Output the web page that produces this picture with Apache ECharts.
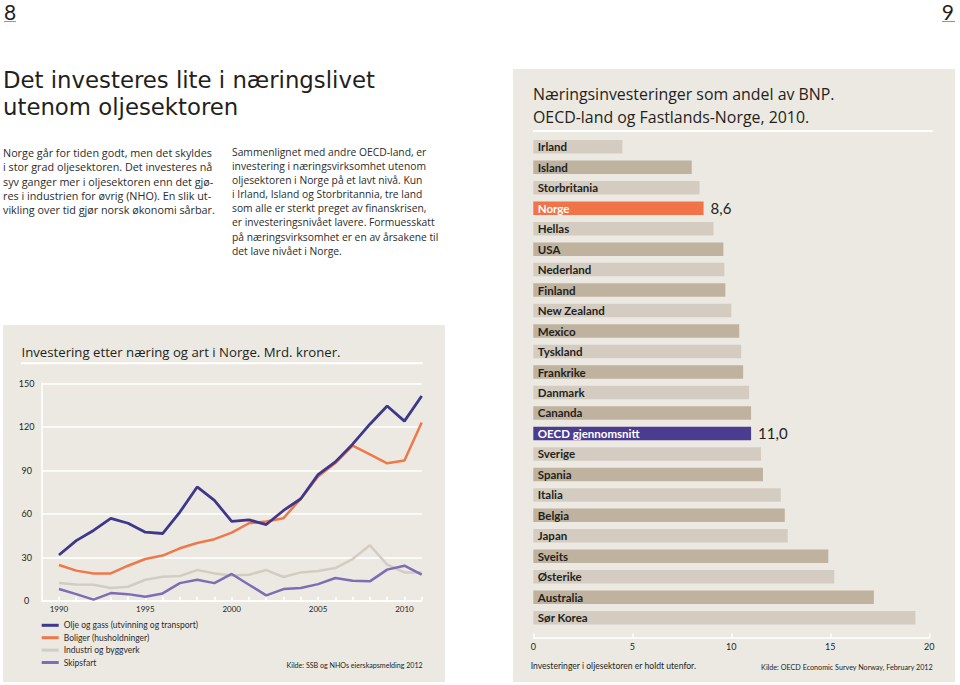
<!DOCTYPE html>
<html>
<head>
<meta charset="utf-8">
<script src="https://cdn.jsdelivr.net/npm/echarts@6/dist/echarts.min.js"></script>
<style>
  html, body { margin:0; padding:0; background:#ffffff; }
  #chart { width:960px; height:685px; }
</style>
</head>
<body>
<div id="chart"></div>
<script>
// ---------- Data ----------
const years = [1990,1991,1992,1993,1994,1995,1996,1997,1998,1999,2000,2001,2002,2003,2004,2005,2006,2007,2008,2009,2010,2011];
const oljeGass  = [31.6,41.5,48.5,56.8,53.5,47.3,46.4,61.2,78.5,69.2,54.8,55.8,52.6,62.3,70.4,87.0,95.8,108.0,121.8,134.3,123.9,141.2];
const boliger   = [24.7,20.8,18.9,18.9,24.2,28.8,31.2,36.2,39.9,42.5,47.0,53.5,54.7,57.0,70.4,85.8,95.0,107.0,101.0,94.8,96.7,123.0];
const industri  = [12.2,11.3,11.1,8.8,9.7,14.5,16.6,17.1,21.2,18.9,17.5,18.0,21.2,16.4,19.6,20.5,22.6,28.8,38.3,24.9,19.6,19.5];
const skipsfart = [8.1,4.6,0.8,5.3,4.6,2.8,5.1,12.2,14.5,12.2,18.5,11.1,3.7,8.1,8.8,11.5,15.7,13.8,13.4,21.5,24.2,18.0];
const lineNames = ['Olje og gass (utvinning og transport)','Boliger (husholdninger)','Industri og byggverk','Skipsfart'];

const countries = ['Irland','Island','Storbritania','Norge','Hellas','USA','Nederland','Finland','New Zealand','Mexico','Tyskland','Frankrike','Danmark','Cananda','OECD gjennomsnitt','Sverige','Spania','Italia','Belgia','Japan','Sveits','Østerike','Australia','Sør Korea'];
const shares = [4.5,8.0,8.4,8.6,9.1,9.6,9.65,9.7,10.0,10.4,10.5,10.6,10.9,11.0,11.0,11.5,11.6,12.5,12.7,12.85,14.9,15.2,17.2,19.3];
const highlightNorway = 'Norge';
const highlightOECD = 'OECD gjennomsnitt';

// ---------- Styles ----------
const FONT = 'Lato';
const WIDE = 'Open Sans';
const TITLEFONT = 'DejaVu Sans';
const BG = '#ece9e3';
const C_OLJE = '#40368a', C_BOLIG = '#ef784a', C_IND = '#d3ccc2', C_SKIP = '#7d6db4';
const BAR_LIGHT = '#d4ccc1', BAR_DARK = '#bfb29f', BAR_NO = '#f07448', BAR_OECD = '#4b3c91';
const TXT = '#231f20';

// colours alternate among countries (OECD row excluded from the alternation)
let k = 0;
const barData = countries.map((c, i) => {
  let color;
  if (c === highlightNorway) { color = BAR_NO; k++; }
  else if (c === highlightOECD) { color = BAR_OECD; }
  else { color = (k % 2 === 0) ? BAR_LIGHT : BAR_DARK; k++; }
  const hl = (c === highlightNorway || c === highlightOECD);
  return { value: shares[i], name: c, itemStyle: { color: color },
           label: { color: hl ? '#ffffff' : TXT } };
});
const valueLabelData = countries.map((c, i) =>
  (c === highlightNorway || c === highlightOECD) ? shares[i] : null);

const pairs = arr => years.map((y, i) => [y, arr[i]]);

const chart = echarts.init(document.getElementById('chart'), null, { renderer: 'svg' });

function txt(text, x, y, size, opts) {
  opts = opts || {};
  const st = {
    text: text, fill: opts.fill || TXT, fontSize: size, fontFamily: opts.family || FONT,
    fontWeight: opts.weight || 'normal',
    align: opts.align || 'left', textAlign: opts.align || 'left',
    verticalAlign: 'middle', textVerticalAlign: 'middle'
  };
  if (opts.lh) st.lineHeight = opts.lh;
  return { type: 'text', x: x, y: y, z: 5, style: st };
}
// a block of lines, each drawn as its own text
function lines(arr, x, y0, pitch, size, opts) {
  return arr.map((s, i) => txt(s, x, y0 + i * pitch, size, opts));
}

const leftPara = ['Norge går for tiden godt, men det skyldes','i stor grad oljesektoren. Det investeres nå','syv ganger mer i oljesektoren enn det gjø-','res i industrien for øvrig (NHO). En slik ut-','vikling over tid gjør norsk økonomi sårbar.'];
const rightPara = ['Sammenlignet med andre OECD-land, er','investering i næringsvirksomhet utenom','oljesektoren i Norge på et lavt nivå. Kun','i Irland, Island og Storbritannia, tre land','som alle er sterkt preget av finanskrisen,','er investeringsnivået lavere. Formuesskatt','på næringsvirksomhet er en av årsakene til','det lave nivået i Norge.'];

const option = {
  animation: false,
  textStyle: { fontFamily: FONT },
  graphic: { elements: [
    { type: 'rect', z: -10, shape: { x: 3, y: 325, width: 442, height: 357 }, style: { fill: BG } },
    { type: 'rect', z: -10, shape: { x: 513, y: 69, width: 442, height: 613 }, style: { fill: BG } },
    { type: 'line', z: 1, shape: { x1: 21, y1: 363.3, x2: 422.7, y2: 363.3 }, style: { stroke: '#ffffff', lineWidth: 2 } },
    { type: 'line', z: 1, shape: { x1: 533, y1: 131, x2: 933, y2: 131 }, style: { stroke: '#ffffff', lineWidth: 2 } },
    // page numbers
    txt('8', 4, 11, 21),
    { type: 'line', shape: { x1: 4, y1: 21.5, x2: 16, y2: 21.5 }, style: { stroke: '#f07448', lineWidth: 1 } },
    txt('9', 954, 11, 21, { align: 'right' }),
    { type: 'line', shape: { x1: 942, y1: 21.5, x2: 955, y2: 21.5 }, style: { stroke: '#f07448', lineWidth: 1 } },
    // main title
    ...lines(['Det investeres lite i næringslivet', 'utenom oljesektoren'], 3, 80, 27, 22.8, { family: TITLEFONT, lh: 25 }),
    // paragraphs
    ...lines(leftPara, 3, 152.7, 14.2, 10.8, { family: WIDE, fill: '#2b2b2b', lh: 14 }),
    ...lines(rightPara, 232, 151.7, 14.15, 10.3, { family: WIDE, fill: '#2b2b2b', lh: 14 }),
    // chart titles
    txt('Investering etter næring og art i Norge. Mrd. kroner.', 21.5, 351.5, 13.2, { family: WIDE }),
    ...lines(['Næringsinvesteringer som andel av BNP.', 'OECD-land og Fastlands-Norge, 2010.'], 533, 93.5, 23.3, 15.9, { family: WIDE, lh: 22 }),
    // footnotes
    txt('Kilde: SSB og NHOs eierskapsmelding 2012', 422.7, 665, 7.1, { align: 'right' }),
    txt('Investeringer i oljesektoren er holdt utenfor.', 530.7, 665.7, 8.6),
    txt('Kilde: OECD Economic Survey Norway, February 2012', 932.7, 667.3, 7.2, { align: 'right' })
  ]},
  legend: {
    left: 41.7, top: 620.1, orient: 'vertical', icon: 'rect', padding: 0,
    itemWidth: 17, itemHeight: 3, itemGap: 2,
    textStyle: { fontSize: 8.5, color: '#2b2b2b', lineHeight: 10.4, fontFamily: FONT },
    data: lineNames
  },
  grid: [
    { left: 41.7, top: 383.3, width: 380, height: 217.5 },
    { left: 533.3, top: 136.5, width: 396, height: 491.5 }
  ],
  xAxis: [
    { gridIndex: 0, type: 'value', min: 1989, max: 2011, interval: 1,
      axisLine: { lineStyle: { color: '#ffffff', width: 1.5 } },
      axisTick: { show: true, inside: true, length: 4, lineStyle: { color: '#ffffff', width: 1.5 } },
      axisLabel: { fontSize: 8, color: TXT, margin: 4.5,
        formatter: v => (v % 5 === 0 ? String(v) : '') },
      splitLine: { show: false } },
    { gridIndex: 1, type: 'value', min: 0, max: 20, interval: 5, offset: 9.5,
      axisLine: { show: true, onZero: false, lineStyle: { color: '#ffffff', width: 1.5 } },
      axisTick: { show: true, inside: true, length: 4, lineStyle: { color: '#ffffff', width: 1.5 } },
      axisLabel: { fontSize: 9, color: TXT, margin: 4 },
      splitLine: { show: false } }
  ],
  yAxis: [
    { gridIndex: 0, type: 'value', min: 0, max: 150, interval: 30,
      axisLine: { show: true, lineStyle: { color: '#ffffff', width: 1.5 } },
      axisTick: { show: false },
      axisLabel: { fontSize: 9, color: TXT, margin: 15, align: 'center' },
      splitLine: { lineStyle: { color: '#ffffff', width: 1.5 } } },
    { gridIndex: 1, type: 'category', data: countries, inverse: true,
      axisLine: { show: false }, axisTick: { show: false }, axisLabel: { show: false },
      splitLine: { show: false } }
  ],
  series: [
    { name: lineNames[2], type: 'line', xAxisIndex: 0, yAxisIndex: 0, data: pairs(industri),
      showSymbol: false, color: C_IND, lineStyle: { width: 2.5, color: C_IND } },
    { name: lineNames[3], type: 'line', xAxisIndex: 0, yAxisIndex: 0, data: pairs(skipsfart),
      showSymbol: false, color: C_SKIP, lineStyle: { width: 2.5, color: C_SKIP } },
    { name: lineNames[1], type: 'line', xAxisIndex: 0, yAxisIndex: 0, data: pairs(boliger),
      showSymbol: false, color: C_BOLIG, lineStyle: { width: 2.5, color: C_BOLIG } },
    { name: lineNames[0], type: 'line', xAxisIndex: 0, yAxisIndex: 0, data: pairs(oljeGass),
      showSymbol: false, color: C_OLJE, lineStyle: { width: 2.8, color: C_OLJE } },
    { type: 'bar', xAxisIndex: 1, yAxisIndex: 1, data: barData, barWidth: 13.5,
      label: { show: true, position: 'insideLeft', distance: 4.5, formatter: '{b}',
               fontSize: 11.5, fontWeight: 'bold', fontFamily: FONT } },
    { type: 'bar', xAxisIndex: 1, yAxisIndex: 1, data: valueLabelData, barWidth: 13.5, barGap: '-100%',
      itemStyle: { color: 'rgba(0,0,0,0)' }, silent: true,
      label: { show: true, position: 'right', distance: 7, fontSize: 15, color: TXT, fontFamily: FONT,
               formatter: p => p.value.toFixed(1).replace('.', ',') } }
  ]
};
chart.setOption(option);
</script>
</body>
</html>
